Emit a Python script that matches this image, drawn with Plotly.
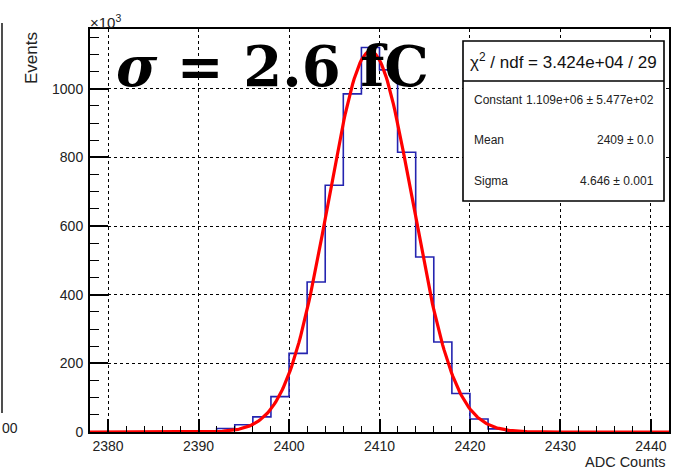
import numpy as np
import plotly.graph_objects as go

# ---------------- data ----------------
bin_low = 2378
bin_width = 2
# counts per bin (x10^3), 32 bins from 2378 to 2442
counts = [0, 0, 0, 0, 0, 0,
          2, 10, 21, 44, 103, 229, 437, 719, 985, 1120,
          1055, 815, 510, 262, 112, 38, 9, 2,
          0, 0, 0, 0, 0, 0, 0, 0]
# Gaussian fit parameters printed in the stats box (constant in x10^3)
fit_constant = 1109.0
fit_mean = 2409.0
fit_sigma = 4.646
x_ticks = [2380, 2390, 2400, 2410, 2420, 2430, 2440]
y_ticks = [0, 200, 400, 600, 800, 1000]
stats_title = "χ<sup>2</sup> / ndf = 3.424e+04 / 29"
stats_labels = ["Constant", "Mean", "Sigma"]
stats_values = ["1.109e+06 ± 5.477e+02", "2409 ± 0.0", "4.646 ± 0.001"]

# ---------------- figure ----------------
W, H = 687, 470
L, R, T, B = 90, 18, 29, 38
PW, PH = W - L - R, H - T - B

def X(px):
    return (px - L) / PW

def Y(py):
    return (H - B - py) / PH

nb = len(counts)
edges = [bin_low + bin_width * i for i in range(nb + 1)]
hx = edges
hy = counts + [counts[-1]]

fx = np.linspace(edges[0], edges[-1], 400)
fy = fit_constant * np.exp(-0.5 * ((fx - fit_mean) / fit_sigma) ** 2)

fig = go.Figure()
fig.add_trace(go.Scatter(x=hx, y=hy, mode="lines", line=dict(shape="hv", color="#2424b0", width=1.6),
                         hoverinfo="skip", showlegend=False))
fig.add_trace(go.Scatter(x=fx, y=fy, mode="lines", line=dict(color="#ff0000", width=3.2),
                         hoverinfo="skip", showlegend=False))

tickfont = dict(family="Liberation Sans, Arial, sans-serif", size=14, color="#222")
fig.update_layout(
    width=W, height=H, margin=dict(l=L, r=R, t=T, b=B),
    paper_bgcolor="white", plot_bgcolor="white", showlegend=False,
    xaxis=dict(range=[edges[0], edges[-1]], tickvals=x_ticks, ticks="inside", ticklen=13, tickwidth=1.5,
               tickcolor="black", showline=True, linecolor="black", linewidth=2, mirror=True,
               showgrid=True, gridcolor="black", gridwidth=1, griddash="dot", zeroline=False,
               tickfont=tickfont, ticklabelstandoff=0,
               minor=dict(dtick=2, ticks="inside", ticklen=6, tickwidth=1.3, tickcolor="black", showgrid=False)),
    yaxis=dict(range=[0, 1174], tickvals=y_ticks, ticks="inside", ticklen=18, tickwidth=1.5,
               tickcolor="black", showline=True, linecolor="black", linewidth=2, mirror=True,
               showgrid=True, gridcolor="black", gridwidth=1, griddash="dot", zeroline=False,
               tickfont=tickfont, ticklabelstandoff=2,
               minor=dict(dtick=50, ticks="inside", ticklen=9, tickwidth=1.3, tickcolor="black", showgrid=False)),
)

shapes = []
annotations = []
sans = "Liberation Sans, Arial, sans-serif"
# stats box
shapes.append(dict(type="rect", xref="paper", yref="paper", x0=X(463), x1=X(664), y0=Y(201), y1=Y(41),
                   line=dict(color="black", width=1.6), fillcolor="white", layer="above"))
shapes.append(dict(type="line", xref="paper", yref="paper", x0=X(463), x1=X(664), y0=Y(81), y1=Y(81),
                   line=dict(color="black", width=1.6), layer="above"))
annotations.append(dict(text=stats_title, xref="paper", yref="paper", x=X(563.5), y=Y(61),
                        xanchor="center", yanchor="middle", showarrow=False,
                        font=dict(family=sans, size=17, color="#111")))
row_y = [100, 140, 181]
for lab, val, ry in zip(stats_labels, stats_values, row_y):
    annotations.append(dict(text=lab, xref="paper", yref="paper", x=X(472), y=Y(ry), xanchor="left",
                            yanchor="middle", showarrow=False,
                            font=dict(family=sans, size=12, color="#222")))
    annotations.append(dict(text=val, xref="paper", yref="paper", x=X(656), y=Y(ry), xanchor="right",
                            yanchor="middle", showarrow=False,
                            font=dict(family=sans, size=12, color="#222")))

# big sigma label
annotations.append(dict(text="<b><i>σ</i> = 2.6 fC</b>", xref="paper", yref="paper", x=X(114), y=Y(66),
                        xanchor="left", yanchor="middle", showarrow=False,
                        font=dict(family="DejaVu Serif, serif", size=56, color="black")))
# x10^3
annotations.append(dict(text="×10<sup>3</sup>", xref="paper", yref="paper", x=X(88), y=Y(21),
                        xanchor="left", yanchor="middle", showarrow=False,
                        font=dict(family=sans, size=15, color="#222")))
# axis titles
annotations.append(dict(text="Events", xref="paper", yref="paper", x=X(31), y=Y(30),
                        xanchor="center", yanchor="top", textangle=-90, showarrow=False,
                        font=dict(family=sans, size=17, color="#222")))
annotations.append(dict(text="ADC Counts", xref="paper", yref="paper", x=X(668), y=Y(462),
                        xanchor="right", yanchor="middle", showarrow=False,
                        font=dict(family=sans, size=14.5, color="#222")))
# remnant of a neighbouring panel on the left edge
shapes.append(dict(type="line", xref="paper", yref="paper", x0=X(2), x1=X(2), y0=Y(413), y1=Y(23),
                   line=dict(color="#222", width=1.6)))
annotations.append(dict(text="00", xref="paper", yref="paper", x=X(0), y=Y(428),
                        xanchor="left", yanchor="middle", showarrow=False,
                        font=dict(family=sans, size=14, color="#222")))

fig.update_layout(shapes=shapes, annotations=annotations)
fig.write_html("out.html")
